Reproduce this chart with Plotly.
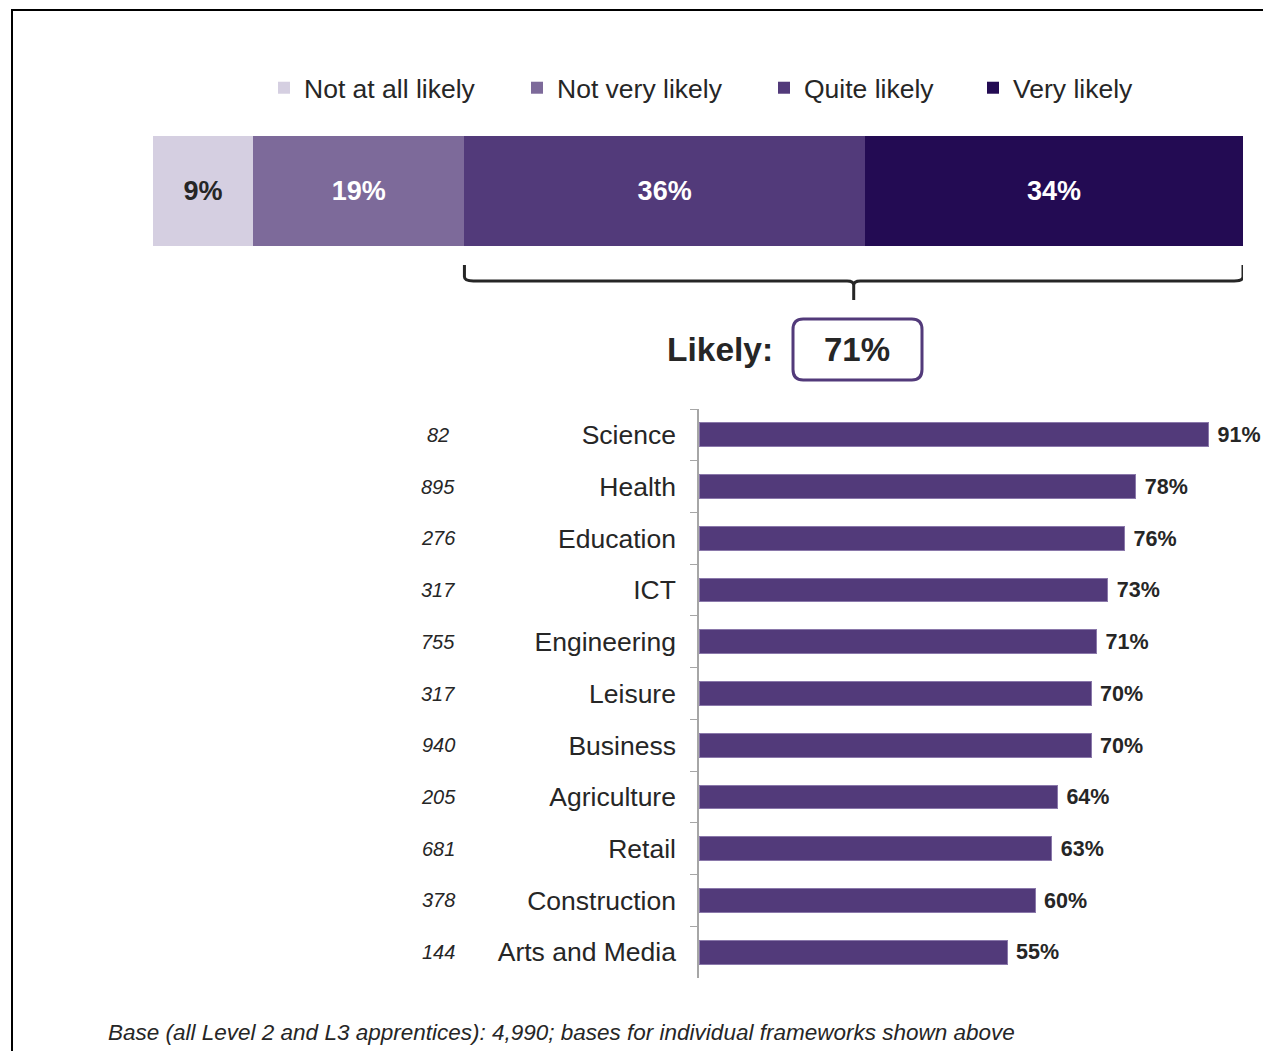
import plotly.graph_objects as go

W, H = 1271, 1051

# overall split of likelihood
levels = ["Not at all likely", "Not very likely", "Quite likely", "Very likely"]
overall = [9, 19, 36, 34]
level_colors = ["#D5CFE1", "#7D6A9A", "#523A7A", "#230B53"]
level_text_colors = ["#262626", "white", "white", "white"]
likely_total = 71

# likely by framework
frameworks = ["Science", "Health", "Education", "ICT", "Engineering", "Leisure",
              "Business", "Agriculture", "Retail", "Construction", "Arts and Media"]
likely_pct = [91, 78, 76, 73, 71, 70, 70, 64, 63, 60, 55]
bases = [82, 895, 276, 317, 755, 317, 940, 205, 681, 378, 144]

FONT = "Liberation Sans, Arial, sans-serif"
DARK = "#262626"
OFF = 8  # page body margin

# left edge (px) of each legend entry
legend_x = [264, 517, 764, 973]


def px(x):
    return (x - OFF) / W


def py(y):
    return 1 - (y - OFF) / H


fig = go.Figure()

for i, (name, val, col, tcol) in enumerate(zip(levels, overall, level_colors, level_text_colors)):
    fig.add_trace(go.Bar(
        x=[val], y=["all"], orientation="h", name=name,
        marker=dict(color=col, line=dict(width=0)),
        width=1,
        text=[f"{val}%"], textposition="inside", insidetextanchor="middle",
        textfont=dict(family=FONT, size=27, color=tcol, weight="bold"),
        legend="legend" if i == 0 else f"legend{i + 1}",
        xaxis="x", yaxis="y",
    ))

fig.add_trace(go.Bar(
    x=likely_pct, y=frameworks, orientation="h", showlegend=False,
    marker=dict(color="#523A7A", line=dict(color="#8A78AA", width=1)),
    text=[f" {v}%" for v in likely_pct], textposition="outside",
    textfont=dict(family=FONT, size=23.5, color=DARK, weight="bold"),
    cliponaxis=False,
    xaxis="x2", yaxis="y2",
))

# base sizes beside each framework
for fw, b in zip(frameworks, bases):
    fig.add_annotation(x=px(438), xref="paper", y=fw, yref="y2",
                       text=str(b), showarrow=False, xanchor="center",
                       font=dict(family=FONT, size=20, color=DARK, style="italic"))

# bracket over quite + very likely
x0 = overall[0] + overall[1]
x1 = sum(overall)
xm = (x0 + x1) / 2
yt, yb, yn = py(265), py(281), py(300)
r = 0.004
bracket = (f"M {x0} {yt} L {x0} {yb + r} Q {x0} {yb} {x0 + 0.8} {yb} "
           f"L {xm - 0.6} {yb} Q {xm} {yb} {xm} {yb - r} L {xm} {yn} "
           f"M {xm} {yb - r} Q {xm} {yb} {xm + 0.6} {yb} "
           f"L {x1 - 0.8} {yb} Q {x1} {yb} {x1} {yb + r} L {x1} {yt}")
fig.add_shape(type="path", path=bracket, xref="x", yref="paper",
              line=dict(color=DARK, width=3))

# likely box
bx0, bx1, by0, by1 = px(793), px(922), py(380), py(319)
cx, cy = 0.008, 0.01
box = (f"M {bx0 + cx} {by1} L {bx1 - cx} {by1} Q {bx1} {by1} {bx1} {by1 - cy} "
       f"L {bx1} {by0 + cy} Q {bx1} {by0} {bx1 - cx} {by0} L {bx0 + cx} {by0} "
       f"Q {bx0} {by0} {bx0} {by0 + cy} L {bx0} {by1 - cy} Q {bx0} {by1} {bx0 + cx} {by1} Z")
fig.add_shape(type="path", path=box, xref="paper", yref="paper",
              line=dict(color="#523A7A", width=3))
fig.add_annotation(x=px(775), y=py(349), xref="paper", yref="paper",
                   text="Likely:", showarrow=False, xanchor="right", yanchor="middle",
                   font=dict(family=FONT, size=33.5, color=DARK, weight="bold"))
fig.add_annotation(x=px(857), y=py(349), xref="paper", yref="paper",
                   text=f"{likely_total}%", showarrow=False, xanchor="center", yanchor="middle",
                   font=dict(family=FONT, size=33, color=DARK, weight="bold"))

# footnote
fig.add_annotation(x=px(106), y=py(1032), xref="paper", yref="paper",
                   text="Base (all Level 2 and L3 apprentices): 4,990; bases for individual frameworks shown above",
                   showarrow=False, xanchor="left", yanchor="middle",
                   font=dict(family=FONT, size=22.5, color=DARK, style="italic"))

# outer frame
fig.add_shape(type="rect", x0=px(12), x1=px(1300), y0=py(1080), y1=py(10),
              xref="paper", yref="paper", line=dict(color="black", width=2))

legends = {}
for i, lx in enumerate(legend_x):
    key = "legend" if i == 0 else f"legend{i + 1}"
    legends[key] = dict(orientation="h", x=px(lx), y=py(88), xanchor="left", yanchor="middle",
                        font=dict(family=FONT, size=26.5, color=DARK), itemwidth=30,
                        bgcolor="rgba(0,0,0,0)")

fig.update_layout(
    width=W, height=H,
    margin=dict(l=0, r=0, t=0, b=0, autoexpand=False),
    paper_bgcolor="white", plot_bgcolor="white",
    barmode="stack", bargap=0.54,
    font=dict(family=FONT, color=DARK),
    xaxis=dict(domain=[px(153), px(1243)], range=[0, sum(overall)], visible=False,
               anchor="y"),
    yaxis=dict(domain=[py(246), py(136)], range=[-0.5, 0.5], visible=False, anchor="x"),
    xaxis2=dict(domain=[px(699), px(1259)], range=[0, 100], visible=False, anchor="y2"),
    yaxis2=dict(domain=[py(978), py(409)], range=[len(frameworks) - 0.5, -0.5],
                anchor="x2", automargin=False,
                showline=True, linecolor="#A6A6A6", linewidth=1.5,
                ticks="outside", tickson="boundaries", ticklen=7, tickcolor="#A6A6A6",
                tickfont=dict(family=FONT, size=26.5, color=DARK),
                ticklabelstandoff=16, showgrid=False),
    **legends,
)

fig.write_html("out.html")
